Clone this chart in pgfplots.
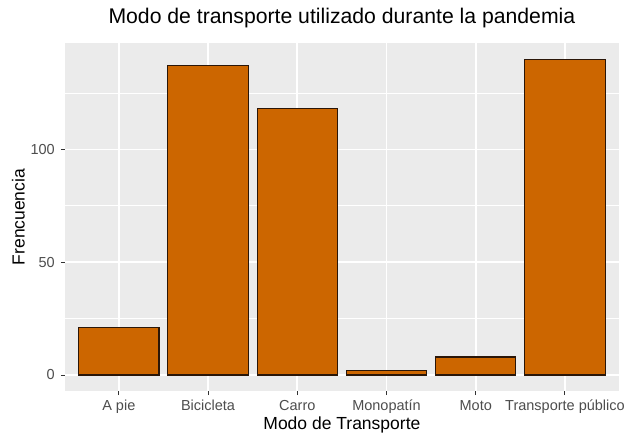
\documentclass[border=0pt]{standalone}
\usepackage{fontspec}
\setmainfont{Liberation Sans}
\usepackage{pgfplots}
\pgfplotsset{compat=1.18}
\definecolor{panel}{HTML}{EBEBEB}
\definecolor{barfill}{HTML}{CC6600}
\definecolor{tickgrey}{HTML}{333333}
\definecolor{labgrey}{HTML}{4D4D4D}
\definecolor{edge}{HTML}{2A1608}
\begin{document}
\begin{tikzpicture}
\path[use as bounding box] (0,0) rectangle (626pt,433pt);
\begin{axis}[
  at={(65.3pt,42.2pt)}, anchor=south west,
  scale only axis, width=553.2pt, height=347.5pt,
  xmin=-0.6, xmax=5.6, ymin=-7, ymax=147,
  axis background/.style={fill=panel},
  axis line style={draw=none},
  xtick={0,1,2,3,4,5},
  xticklabels={A pie,Bicicleta,Carro,Monopatín,Moto,Transporte público},
  ytick={0,50,100}, yticklabels={0,50,100},
  minor ytick={25,75,125},
  xmajorgrids, ymajorgrids, yminorgrids,
  major grid style={white, line width=1.6pt},
  minor grid style={white, line width=0.8pt},
  tick align=outside, major tick length=4.4pt, minor tick length=0pt,
  tick style={tickgrey, line width=1pt},
  tick pos=left,
  /pgf/number format/assume math mode=true,
  yticklabel style={font=\fontsize{14.5}{17}\selectfont, text=labgrey, anchor=east, inner sep=0pt},
  xticklabel style={font=\fontsize{14.5}{17}\selectfont, text=labgrey, anchor=base, inner sep=0pt},
  yticklabel shift=5.9pt,
  xticklabel shift=15.8pt,
  title={Modo de transporte utilizado durante la pandemia},
  title style={font=\fontsize{21.2}{25}\selectfont, at={(rel axis cs:0.5,1)}, anchor=base, yshift=13.3pt, inner sep=0pt},
  xlabel={Modo de Transporte},
  xlabel style={font=\fontsize{17.5}{20}\selectfont, at={(rel axis cs:0.5,0)}, anchor=base, yshift=-38.4pt, inner sep=0pt},
  ylabel={Frencuencia},
  ylabel style={font=\fontsize{17.5}{20}\selectfont, at={(rel axis cs:-0.085,0.5)}, anchor=center, inner sep=0pt},
]
\addplot[ybar, bar width=0.9, fill=barfill, draw=edge, line width=1.1pt]
  coordinates {(0,21) (1,137) (2,118) (3,2) (4,8) (5,140)};
\end{axis}
\end{tikzpicture}
\end{document}
